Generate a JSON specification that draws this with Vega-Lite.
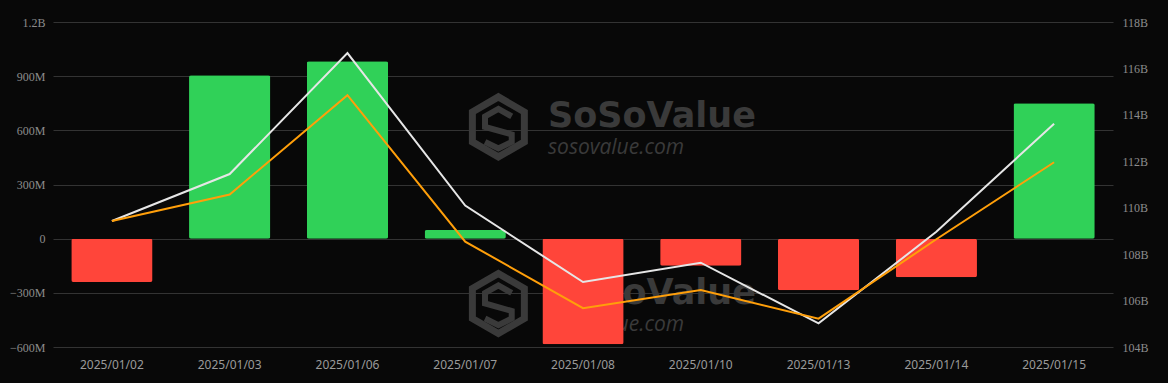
{
  "$schema": "https://vega.github.io/schema/vega-lite/v6.json",
  "width": 1060,
  "height": 325,
  "autosize": {"type": "none"},
  "padding": {"left": 53, "top": 22, "right": 55, "bottom": 36},
  "background": "#080808",
  "config": {
    "view": {"stroke": null},
    "axis": {"labelColor": "#8c8c8c", "grid": false, "domain": false, "ticks": false, "title": null}
  },
  "datasets": {
    "flows": [
      {"date": "2025/01/02", "netInflow": -240000000, "totalNetAssets": 109430000000, "cumulativeValue": 109430000000},
      {"date": "2025/01/03", "netInflow": 905000000, "totalNetAssets": 111450000000, "cumulativeValue": 110570000000},
      {"date": "2025/01/06", "netInflow": 983000000, "totalNetAssets": 116660000000, "cumulativeValue": 114850000000},
      {"date": "2025/01/07", "netInflow": 48000000, "totalNetAssets": 110090000000, "cumulativeValue": 108540000000},
      {"date": "2025/01/08", "netInflow": -585000000, "totalNetAssets": 106800000000, "cumulativeValue": 105670000000},
      {"date": "2025/01/10", "netInflow": -150000000, "totalNetAssets": 107630000000, "cumulativeValue": 106450000000},
      {"date": "2025/01/13", "netInflow": -285000000, "totalNetAssets": 105020000000, "cumulativeValue": 105220000000},
      {"date": "2025/01/14", "netInflow": -213000000, "totalNetAssets": 108960000000, "cumulativeValue": 108640000000},
      {"date": "2025/01/15", "netInflow": 750000000, "totalNetAssets": 113620000000, "cumulativeValue": 111960000000}
    ],
    "brand": [
      {"date": "2025/01/08", "v": 616000000, "label": "SoSoValue", "kind": "name"},
      {"date": "2025/01/08", "v": 467000000, "label": "sosovalue.com", "kind": "site"},
      {"date": "2025/01/08", "v": -362000000, "label": "SoSoValue", "kind": "name"},
      {"date": "2025/01/08", "v": -511000000, "label": "sosovalue.com", "kind": "site"}
    ],
    "logo": [
      {"date": "2025/01/07", "v": 619000000},
      {"date": "2025/01/07", "v": -359000000}
    ]
  },
  "layer": [
    {
      "layer": [
        {
          "data": {"name": "flows"},
          "mark": {"type": "bar", "cornerRadius": 2, "opacity": 0},
          "encoding": {
            "x": {
              "field": "date", "type": "nominal", "sort": null,
              "scale": {"domain": ["2025/01/02", "2025/01/03", "2025/01/06", "2025/01/07", "2025/01/08", "2025/01/10", "2025/01/13", "2025/01/14", "2025/01/15"], "paddingInner": 0.31, "paddingOuter": 0.155},
              "axis": {"labelAngle": 0, "labelFont": "Noto Sans", "labelFontSize": 12, "labelColor": "#9a9a9a", "labelPadding": 12}
            },
            "y": {
              "field": "netInflow", "type": "quantitative",
              "scale": {"domain": [-600000000, 1200000000], "nice": false, "zero": false},
              "axis": {
                "values": [-600000000, -300000000, 0, 300000000, 600000000, 900000000, 1200000000],
                "grid": true, "gridColor": "#333333", "gridWidth": 1,
                "labelFont": "Liberation Serif", "labelFontSize": 12, "labelPadding": 8,
                "labelExpr": "datum.value == 0 ? '0' : (abs(datum.value) >= 1000000000 ? format(datum.value / 1000000000, '.1f') + 'B' : format(datum.value / 1000000, 'd') + 'M')"
              }
            }
          }
        },
        {
          "data": {"name": "logo"},
          "mark": {"type": "point", "shape": "M1.105,-1L1.971,-0.5L1.971,0.5L1.105,1L0.239,0.5L0.239,-0.5Z", "size": 3600, "filled": false, "stroke": "#3a3a3a", "strokeWidth": 7, "opacity": 1},
          "encoding": {
            "x": {"field": "date", "type": "nominal"},
            "y": {"field": "v", "type": "quantitative"}
          }
        },
        {
          "data": {"name": "logo"},
          "mark": {"type": "point", "shape": "M1.55,-0.35L1.105,-0.6L0.66,-0.35L0.66,0L1.55,0.25L1.55,0.5L1.105,0.72L0.66,0.5", "size": 3600, "filled": false, "stroke": "#3a3a3a", "strokeWidth": 6, "opacity": 1},
          "encoding": {
            "x": {"field": "date", "type": "nominal"},
            "y": {"field": "v", "type": "quantitative"}
          }
        },
        {
          "data": {"name": "brand"},
          "transform": [{"filter": "datum.kind == 'name'"}],
          "mark": {"type": "text", "align": "left", "baseline": "alphabetic", "dx": -35, "font": "DejaVu Sans", "fontWeight": "bold", "fontSize": 35, "color": "#3a3a3a"},
          "encoding": {
            "x": {"field": "date", "type": "nominal"},
            "y": {"field": "v", "type": "quantitative"},
            "text": {"field": "label"}
          }
        },
        {
          "data": {"name": "brand"},
          "transform": [{"filter": "datum.kind == 'site'"}],
          "mark": {"type": "text", "align": "left", "baseline": "alphabetic", "dx": -35, "font": "Open Sans", "fontStyle": "italic", "fontSize": 21, "color": "#3a3a3a"},
          "encoding": {
            "x": {"field": "date", "type": "nominal"},
            "y": {"field": "v", "type": "quantitative"},
            "text": {"field": "label"}
          }
        },
        {
          "data": {"name": "flows"},
          "mark": {"type": "bar", "cornerRadius": 2},
          "encoding": {
            "x": {"field": "date", "type": "nominal", "sort": null},
            "y": {"field": "netInflow", "type": "quantitative"},
            "color": {
              "condition": {"test": "datum.netInflow >= 0", "value": "#30D158"},
              "value": "#FF453A"
            }
          }
        }
      ]
    },
    {
      "data": {"name": "flows"},
      "transform": [{"fold": ["totalNetAssets", "cumulativeValue"], "as": ["series", "assets"]}],
      "mark": {"type": "line", "strokeWidth": 2},
      "encoding": {
        "x": {"field": "date", "type": "nominal", "sort": null},
        "y": {
          "field": "assets", "type": "quantitative",
          "scale": {"domain": [104000000000, 118000000000], "nice": false, "zero": false},
          "axis": {
            "orient": "right",
            "values": [104000000000, 106000000000, 108000000000, 110000000000, 112000000000, 114000000000, 116000000000, 118000000000],
            "labelFont": "Liberation Serif", "labelFontSize": 12, "labelPadding": 9,
            "labelExpr": "format(datum.value / 1000000000, 'd') + 'B'"
          }
        },
        "color": {
          "field": "series", "type": "nominal",
          "scale": {"domain": ["totalNetAssets", "cumulativeValue"], "range": ["#e6e6e6", "#FF9F0A"]},
          "legend": null
        }
      }
    }
  ],
  "resolve": {"scale": {"y": "independent"}}
}
